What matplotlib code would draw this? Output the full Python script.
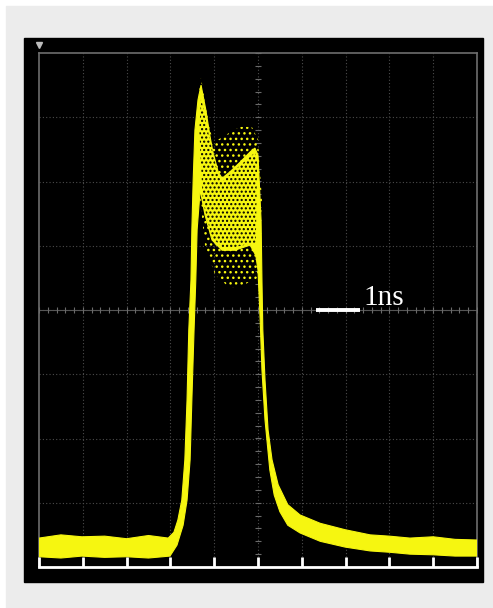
import matplotlib.pyplot as plt
import matplotlib.patches as mpatches
import numpy as np

# scope trace: time in ns (1 ns/div), amplitude in divisions
upper_t = [0.0, 0.5, 0.98, 1.5, 2.0, 2.5, 2.95, 3.08, 3.17, 3.26, 3.33, 3.38, 3.42, 3.47, 3.49,
           3.52, 3.56, 3.63, 3.70, 3.81, 3.90, 3.97, 4.09, 4.18, 4.36, 4.59, 4.82, 4.93, 5.00,
           5.07, 5.09, 5.11, 5.16, 5.23, 5.32, 5.46, 5.68, 5.96, 6.42, 6.99, 7.56, 8.0, 8.47,
           9.0, 9.5, 10.0]
upper_v = [-3.55, -3.50, -3.53, -3.52, -3.56, -3.51, -3.55, -3.46, -3.27, -2.96, -2.33, -1.40,
           -0.31, 0.47, 1.25, 2.02, 2.80, 3.27, 3.50, 3.11, 2.72, 2.46, 2.15, 2.05, 2.15, 2.30,
           2.46, 2.52, 2.41, 1.40, 0.47, -0.31, -1.09, -1.87, -2.33, -2.72, -3.03, -3.19,
           -3.32, -3.42, -3.50, -3.52, -3.55, -3.53, -3.57, -3.58]
lower_t = [0.0, 0.5, 0.98, 1.5, 2.0, 2.5, 2.99, 3.15, 3.29, 3.38, 3.45, 3.49, 3.54, 3.58, 3.61,
           3.68, 3.79, 3.95, 4.18, 4.47, 4.82, 4.95, 5.00, 5.05, 5.09, 5.16, 5.27, 5.37, 5.50,
           5.68, 5.96, 6.42, 6.99, 7.56, 8.0, 8.47, 9.0, 9.5, 10.0]
lower_v = [-3.84, -3.86, -3.83, -3.85, -3.84, -3.86, -3.83, -3.66, -3.35, -2.96, -2.33, -1.40,
           -0.31, 0.47, 1.25, 1.87, 1.48, 1.09, 0.93, 0.93, 1.01, 0.85, 0.62, -0.16, -0.93,
           -1.71, -2.49, -2.88, -3.14, -3.35, -3.47, -3.60, -3.69, -3.75, -3.77, -3.80,
           -3.81, -3.83, -3.83]

# loose scatter around the double-peak top
scatter_t = [3.63, 3.70, 3.80, 3.97, 4.25, 4.59, 4.86, 5.00, 5.09, 5.00, 4.70, 4.36, 4.02,
             3.79, 3.68, 3.60]
scatter_v = [3.27, 3.62, 3.20, 2.60, 2.72, 2.85, 2.85, 2.65, 1.71, 0.50, 0.40, 0.34, 0.55,
             1.00, 1.71, 2.50]

# speckled (partly filled) core of the double peak
core_t = [3.70, 3.90, 4.09, 4.18, 4.59, 4.93, 4.98, 4.95, 4.47, 4.18, 3.95, 3.74, 3.66]
core_v = [3.30, 2.65, 2.10, 2.00, 2.25, 2.45, 2.30, 1.05, 0.98, 0.98, 1.12, 1.70, 2.80]

ns_per_div = 1
yellow = '#f6f610'

plt.rcParams['hatch.linewidth'] = 1.0
fig = plt.figure(figsize=(4.93, 6.08), dpi=100, facecolor='white')

# grey page and black scope screen
fig.patches.append(mpatches.Rectangle((6 / 493, 0), 487 / 493, 602 / 608,
                                      transform=fig.transFigure, color='#ececec', zorder=-3))
fig.patches.append(mpatches.Rectangle((24 / 493, 1 - 582 / 608), 459 / 493, 544 / 608,
                                      transform=fig.transFigure, color='black', zorder=-2))

ax = fig.add_axes([39 / 493, 1 - 567 / 608, 438 / 493, 514 / 608])
ax.set_facecolor('black')
ax.set_xlim(0, 10)
ax.set_ylim(-4, 4)
ax.set_xticks([])
ax.set_yticks([])

# graticule
for x in range(1, 10):
    ax.axvline(x, color='#4c4c4c', lw=0.8, ls=(0, (1, 2)), zorder=1)
for y in range(-3, 4):
    ax.axhline(y, color='#4c4c4c', lw=0.8, ls=(0, (1, 2)), zorder=1)
ax.axhline(0, color='#555555', lw=0.8, zorder=1)
minor = np.arange(0, 10.01, 0.2)
ax.plot(minor, np.zeros_like(minor), '|', color='#6a6a6a', ms=5, mew=0.8, zorder=1)
minor_y = np.arange(-4, 4.01, 0.2)
ax.plot(np.full_like(minor_y, 5), minor_y, '_', color='#6a6a6a', ms=5, mew=0.8, zorder=1)

for side in ['left', 'top', 'right']:
    ax.spines[side].set_color('#6e6e6e')
    ax.spines[side].set_linewidth(1.2)
ax.spines['bottom'].set_color('white')
ax.spines['bottom'].set_linewidth(2)
for x in range(0, 11):
    ax.plot([x, x], [-4, -3.85], color='white', lw=2, solid_capstyle='butt', zorder=5,
            clip_on=False)
ax.plot([0], [4.12], 'v', color='#bdbdbd', ms=5, clip_on=False, zorder=5)

# trace
ax.add_patch(mpatches.Polygon(np.column_stack([scatter_t, scatter_v]), closed=True,
                              facecolor='none', edgecolor=yellow, hatch='...', lw=0, zorder=3))
poly_t = upper_t + lower_t[::-1]
poly_v = upper_v + lower_v[::-1]
ax.add_patch(mpatches.Polygon(np.column_stack([poly_t, poly_v]), closed=True,
                              facecolor=yellow, edgecolor=yellow, lw=0.8, zorder=4))
ax.add_patch(mpatches.Polygon(np.column_stack([core_t, core_v]), closed=True,
                              facecolor='none', edgecolor='black', hatch='....', lw=0,
                              zorder=4.5))

# 1 ns scale bar
ax.plot([6.32, 6.32 + ns_per_div], [0, 0], color='white', lw=2.8, solid_capstyle='butt',
        zorder=6)
ax.text(7.40, 0.08, '1ns', color='white', fontsize=21, family='Liberation Serif',
        va='baseline', ha='left', zorder=6)

fig.savefig('out.png', dpi=100, facecolor='white')
